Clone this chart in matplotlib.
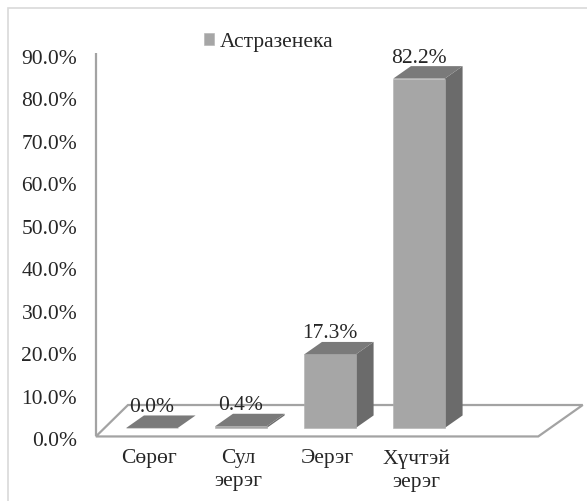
from matplotlib import pyplot as plt
from matplotlib.patches import Polygon, Rectangle

categories = ['Сөрөг', 'Сул\nэерэг', 'Эерэг', 'Хүчтэй\nэерэг']
values = [0.0, 0.4, 17.3, 82.2]
series_name = 'Астразенека'
yticks = [0, 10, 20, 30, 40, 50, 60, 70, 80, 90]

plt.rcParams['font.family'] = ['Liberation Serif', 'DejaVu Serif']
plt.rcParams['font.size'] = 15.5

W, H = 587, 501
fig = plt.figure(figsize=(W / 100, H / 100), dpi=100)
# plot area in pixels: left 96, right 587, top 0, bottom 445
ax = fig.add_axes([96 / W, (H - 445) / H, (W - 96) / W, 445 / H])
ax.set_xlim(-0.629, 4.888)
ax.set_ylim(-1.41, 103.3)
for s in ax.spines.values():
    s.set_visible(False)

# fake 3d settings (data units)
base = 2.6      # where bars stand on the floor
w = 0.58        # front face width
dx, dy = 0.2, 2.94  # depth of a bar
front_c, side_c, top_c = '#A6A6A6', '#6B6B6B', '#7A7A7A'
line_c = '#A3A3A3'

# floor and left axis line
floor = Polygon([(-0.63, 0.6), (4.34, 0.6), (4.84, 8.0), (-0.27, 8.0)],
                closed=True, facecolor='white', edgecolor=line_c, lw=1.6,
                zorder=1, clip_on=False)
ax.add_patch(floor)
ax.plot([-0.63, -0.63], [0.6, 90.8], color=line_c, lw=1.6, zorder=1,
        clip_on=False, solid_capstyle='butt')

xs = list(range(len(values)))
bars = ax.bar(xs, values, bottom=base, width=w, color=front_c,
              edgecolor='#B0B0B0', lw=0.4, zorder=3, label=series_name)

for x, v in zip(xs, values):
    top = base + v
    xl, xr = x - w / 2, x + w / 2
    ax.add_patch(Polygon([(xr, base), (xr + dx, base + dy), (xr + dx, top + dy), (xr, top)],
                         closed=True, facecolor=side_c, edgecolor='none', zorder=2))
    ax.add_patch(Polygon([(xl, top), (xr, top), (xr + dx, top + dy), (xl + dx, top + dy)],
                         closed=True, facecolor=top_c, edgecolor='none', zorder=4))
    ax.text(x, top + dy + 1.9, f'{v:.1f}%', ha='center', va='center',
            color='#262626', zorder=5)

ax.set_yticks(yticks)
ax.set_yticklabels([f'{t:.1f}%' for t in yticks])
ax.set_xticks([x - 0.03 for x in xs])
ax.set_xticklabels(categories, linespacing=1.3)
ax.tick_params(axis='both', length=0, colors='#262626')
ax.tick_params(axis='y', pad=13.5)
ax.tick_params(axis='x', pad=3)

leg = ax.legend(loc='center left', bbox_to_anchor=(204 / W, 1 - 42 / H),
                bbox_transform=fig.transFigure, frameon=False, borderpad=0,
                borderaxespad=0, handlelength=0.45, handleheight=0.45,
                handletextpad=0.3)
for t in leg.get_texts():
    t.set_color('#262626')

# chart border
fig.patches.append(Rectangle((8 / W, -0.1), 1.2, 1.1 - 8 / H + 0.0,
                             transform=fig.transFigure, fill=False,
                             edgecolor='#D9D9D9', lw=1.2))

plt.savefig('out.png', dpi=100)
